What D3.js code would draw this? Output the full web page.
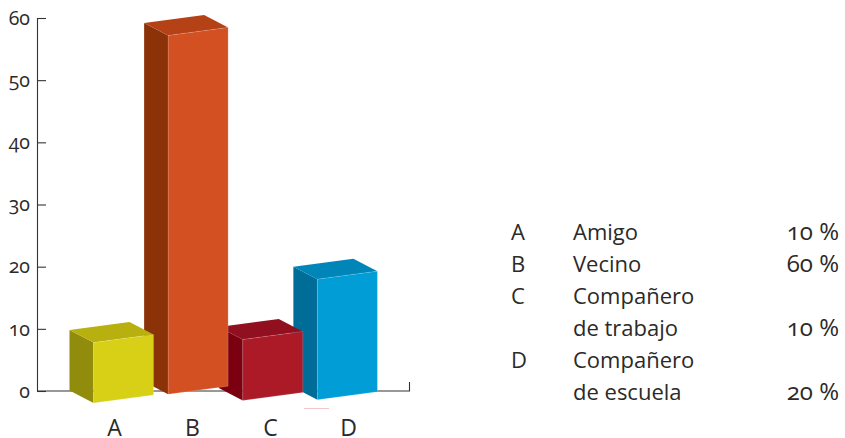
<!DOCTYPE html>
<html>
<head>
    <title>Bar chart</title>
    <script src="https://d3js.org/d3.v7.min.js"></script>
    <style>
        html, body { margin: 0; padding: 0; background: #fff; }
        svg { display: block; }
        text {
            font-family: "Open Sans", sans-serif;
            font-feature-settings: "onum";
            fill: #2b2a29;
        }
    </style>
</head>
<body>
    <svg id="plot" width="845" height="438"></svg>

    <script>
        const categories = ['A', 'B', 'C', 'D'];
        // the bars float a little around the zero line
        const barTops = [9.8, 59.2, 10.3, 20];
        const barBases = [0.1, 1.5, 0.5, 0.6];
        const yTicks = [0, 10, 20, 30, 40, 50, 60];

        const faceFront = ['#d7d016', '#d35023', '#ac1a28', '#009dd6'];
        const faceTop = ['#b8b00e', '#b54217', '#911020', '#0085b8'];
        const faceSide = ['#928c0c', '#8c3208', '#7b0010', '#006c98'];

        const legendLetters = ['A', 'B', 'C', '', 'D', ''];
        const legendNames = ['Amigo', 'Vecino', 'Compañero', 'de trabajo', 'Compañero', 'de escuela'];
        const legendPercents = ['10 %', '60 %', '', '10 %', '', '20 %'];

        const svg = d3.select('#plot');

        const yScale = d3.scaleLinear().domain([0, 60]).range([391, 18]);
        const xBars = d3.scaleBand().domain(categories).range([69.5, 368]);
        const xLabels = d3.scalePoint().domain(categories).range([114, 348]);

        const barWidth = 60, barRise = 8, depthX = 24, depthY = 12.5;

        // Y axis
        const yAxis = svg.append('g')
            .attr('transform', 'translate(37,0)')
            .call(d3.axisLeft(yScale).tickValues(yTicks).tickSize(-9).tickPadding(7).tickSizeOuter(0));
        yAxis.selectAll('path, line').attr('stroke', '#333').attr('stroke-width', 1.1);
        yAxis.select('.domain').attr('d', 'M0.5,18V391');
        yAxis.selectAll('text').attr('font-size', 19.5).style('font-family', null);

        // X axis line with its closing tick
        svg.append('path')
            .attr('d', 'M37,391H409.5V382')
            .attr('fill', 'none')
            .attr('stroke', '#333')
            .attr('stroke-width', 1.1);

        const xAxis = svg.append('g')
            .attr('transform', 'translate(0,391)')
            .call(d3.axisBottom(xLabels).tickSize(0).tickPadding(29));
        xAxis.select('.domain').remove();
        xAxis.selectAll('text').attr('font-size', 23).style('font-family', null);

        // Bars, back to front so A ends up on top of B and so on
        const bars = svg.selectAll('g.bar')
            .data(d3.range(categories.length).reverse())
            .enter()
            .append('g')
            .attr('class', 'bar');

        function poly(points) {
            return 'M' + points.map(p => p.join(',')).join('L') + 'Z';
        }

        bars.append('path') // side
            .attr('fill', i => faceSide[i])
            .attr('d', i => {
                const x = xBars(categories[i]);
                const t = yScale(barTops[i]), b = yScale(barBases[i]);
                return poly([[x, t], [x + depthX, t + depthY], [x + depthX, b + depthY], [x, b]]);
            });

        bars.append('path') // top
            .attr('fill', i => faceTop[i])
            .attr('d', i => {
                const x = xBars(categories[i]);
                const t = yScale(barTops[i]);
                return poly([[x, t], [x + depthX, t + depthY], [x + depthX + barWidth, t + depthY - barRise], [x + barWidth, t - barRise]]);
            });

        bars.append('path') // front
            .attr('fill', i => faceFront[i])
            .attr('stroke', 'rgba(255,255,255,0.25)')
            .attr('stroke-width', 0.6)
            .attr('d', i => {
                const x = xBars(categories[i]) + depthX;
                const t = yScale(barTops[i]) + depthY, b = yScale(barBases[i]) + depthY;
                return poly([[x, t], [x + barWidth, t - barRise], [x + barWidth, b - barRise], [x, b]]);
            });

        // small pink mark under bar D
        svg.append('line')
            .attr('x1', 304).attr('x2', 329)
            .attr('y1', 408.5).attr('y2', 408.5)
            .attr('stroke', '#f5c6c9')
            .attr('stroke-width', 1);

        // Legend table
        const rowY = d3.scalePoint().domain(d3.range(legendNames.length)).range([240, 400]);

        const rows = svg.selectAll('g.row')
            .data(d3.range(legendNames.length))
            .enter()
            .append('g')
            .attr('class', 'row')
            .attr('transform', i => `translate(0,${rowY(i)})`)
            .attr('font-size', 22);

        rows.append('text').attr('x', 511).text(i => legendLetters[i]);
        rows.append('text').attr('x', 573).text(i => legendNames[i]);
        rows.append('text').attr('x', 839).attr('text-anchor', 'end')
            .attr('font-size', 24)
            .text(i => legendPercents[i]);
    </script>
</body>
</html>
